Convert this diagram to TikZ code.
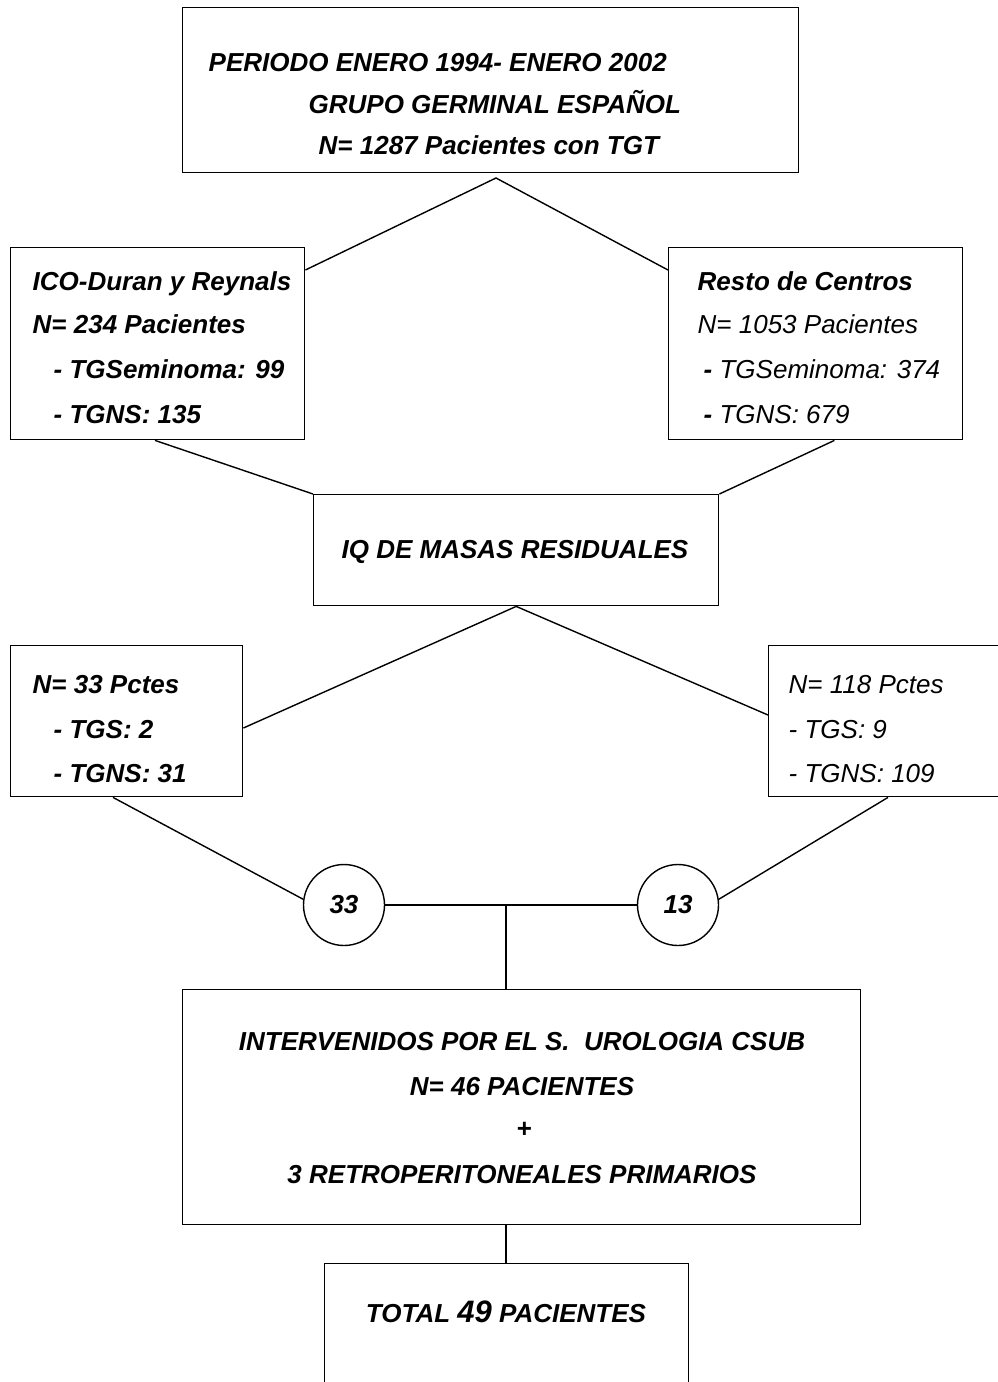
\documentclass[tikz,border=0pt]{standalone}
\usepackage{fontspec}
\setmainfont{Liberation Sans}
\usetikzlibrary{positioning,calc}
\begin{document}
\begin{tikzpicture}[x=1pt, y=-1pt, line width=1.4pt,
    caja/.style={draw, rectangle, inner sep=0pt, anchor=north west},
    circ/.style={draw, circle, minimum size=81pt, inner sep=0pt, font=\fontsize{26}{30}\selectfont\bfseries\itshape},
    txt/.style={inner sep=0pt, anchor=base west, font=\fontsize{26}{30}\selectfont\bfseries\itshape},
    txtn/.style={txt, font=\fontsize{26}{30}\selectfont\itshape},
    txtc/.style={txt, anchor=base}]
        \useasboundingbox (0,0) rectangle (997,1382);
        \node [caja, minimum width=616pt, minimum height=165pt] (periodo) at (182,7) {};
        \node [caja, minimum width=294pt, minimum height=192pt] (ico) at (10,247) {};
        \node [caja, minimum width=294pt, minimum height=192pt] (resto) at (668,247) {};
        \node [caja, minimum width=405pt, minimum height=111pt] (iq) at (313,494) {};
        \node [caja, minimum width=232pt, minimum height=151pt] (izq) at (10,645) {};
        \node [caja, minimum width=250pt, minimum height=151pt] (der) at (768,645) {};
        \node [circ] (c33) at (344,905) {33};
        \node [circ] (c13) at (678,905) {13};
        \node [caja, minimum width=678pt, minimum height=235pt] (urol) at (182,989) {};
        \node [caja, minimum width=364pt, minimum height=140pt] (total) at (324,1263) {};
        \coordinate (ap1) at (496,178);
        \coordinate (jn) at (506,905);
        \draw ([yshift=-23pt]ico.north east) -- (ap1) -- ([yshift=-23pt]resto.north west);
        \draw ([xshift=145pt]ico.south west) -- (iq.north west);
        \draw ([xshift=-129pt]resto.south east) -- (iq.north east);
        \draw ([yshift=-83pt]izq.north east) -- (iq.south) -- ([yshift=-70pt]der.north west);
        \draw ([xshift=103pt]izq.south west) -- (c33.172);
        \draw ([xshift=120pt]der.south west) -- (c13.8);
        \draw (c33) -- (c13);
        \draw (jn) -- (jn |- urol.north);
        \draw (jn |- urol.south) -- (jn |- total.north);
        \node [txt] (p1) at (208,71) {PERIODO ENERO 1994- ENERO 2002};
        \node [txt] (p2) at (308,113) {GRUPO GERMINAL ESPAÑOL};
        \node [txt] (p3) at (318,154) {N= 1287 Pacientes con TGT};
        \node [txt] (i1) at (32,290) {ICO-Duran y Reynals};
        \node [txt] (i2) at (32,333) {N= 234 Pacientes};
        \node [txt] (i3) at (53,378) {- TGSeminoma: 99};
        \node [txt] (i4) at (53,423) {- TGNS: 135};
        \node [txt] (r1) at (697,290) {Resto de Centros};
        \node [txtn] (r2) at (697,333) {N= 1053 Pacientes};
        \node [txtn] (r3) at (703,378) {\textbf{-} TGSeminoma: 374};
        \node [txtn] (r4) at (703,423) {\textbf{-} TGNS: 679};
        \node [txtc] (q1) at (515,558) {IQ DE MASAS RESIDUALES};
        \node [txt] (z1) at (32,693) {N= 33 Pctes};
        \node [txt] (z2) at (53,738) {- TGS: 2};
        \node [txt] (z3) at (53,782) {- TGNS: 31};
        \node [txtn] (d1) at (788,693) {N= 118 Pctes};
        \node [txtn] (d2) at (788,738) {- TGS: 9};
        \node [txtn] (d3) at (788,782) {- TGNS: 109};
        \node [txtc] (u1) at (522,1050) {INTERVENIDOS POR EL S.\ \ UROLOGIA CSUB};
        \node [txtc] (u2) at (522,1095) {N= 46 PACIENTES};
        \node [txtc] (u3) at (524,1137) {+};
        \node [txtc] (u4) at (522,1183) {3 RETROPERITONEALES PRIMARIOS};
        \node [txtc] (t1) at (506,1322) {TOTAL {\fontsize{31}{30}\selectfont 49} PACIENTES};
      \end{tikzpicture}
\end{document}
